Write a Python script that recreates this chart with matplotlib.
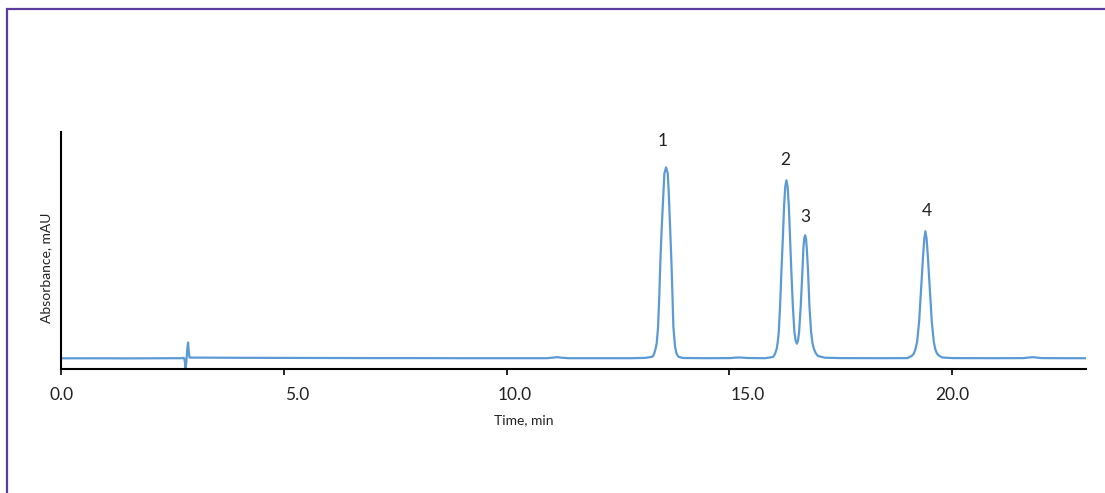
import matplotlib
matplotlib.use("Agg")
import matplotlib.pyplot as plt
from matplotlib.patches import Rectangle

# ---- data ----
time_min = [
    0.0, 0.5, 1.0, 1.5, 2.0, 2.5, 2.70, 2.76, 2.78, 2.795, 2.815, 2.835, 2.852, 2.868, 2.885,
    2.95, 3.5, 4.0, 5.0, 6.0, 7.0, 8.0, 9.0, 10.0, 10.9, 11.05, 11.13, 11.22, 11.4, 12.0,
    12.8, 13.1, 13.2, 13.28,
    13.315, 13.343, 13.368, 13.398, 13.427, 13.450, 13.481, 13.517, 13.539, 13.577, 13.615, 13.638,
    13.667, 13.696, 13.719, 13.741, 13.779, 13.81, 13.853, 13.95,
    14.5, 15.0, 15.15, 15.25, 15.4, 15.8,
    15.979, 16.02, 16.061, 16.085, 16.106, 16.136, 16.165, 16.197, 16.226, 16.252, 16.278, 16.304, 16.331,
    16.360, 16.389, 16.421, 16.457, 16.484, 16.511, 16.538, 16.562, 16.600, 16.636, 16.658,
    16.677, 16.697, 16.717, 16.735, 16.764, 16.793, 16.831, 16.862, 16.892, 16.94, 16.988, 17.139,
    17.5, 18.5, 19.0,
    19.008, 19.09, 19.136, 19.17, 19.210, 19.255, 19.300, 19.345, 19.372, 19.396, 19.423, 19.450, 19.495,
    19.540, 19.585, 19.62, 19.659, 19.71, 19.778,
    20.0, 21.0, 21.6, 21.7, 21.8, 21.9, 22.0, 22.5, 22.98,
]
absorbance = [
    0.2, 0.2, 0.2, 0.1, 0.2, 0.3, 0.3, 0.6, -3.0, -10.5, -2.0, 10.0, 16.0, 6.0, 1.0,
    0.9, 0.8, 0.7, 0.6, 0.5, 0.4, 0.4, 0.3, 0.3, 0.3, 0.9, 1.4, 0.8, 0.3, 0.3,
    0.3, 0.6, 1.2, 2.0,
    5.5, 10.0, 15.5, 31.8, 65.2, 98.5, 131.8, 165.2, 185.0, 191.2, 185.0, 165.2,
    131.8, 98.5, 65.2, 31.8, 11.8, 5.0, 1.8, 0.5,
    0.3, 0.4, 0.9, 1.0, 0.5, 0.3,
    1.5, 4.5, 9.8, 17.0, 26.5, 53.2, 86.5, 119.8, 153.2, 172.0, 178.2, 172.0, 153.2,
    119.8, 86.5, 53.2, 26.5, 18.0, 14.8, 18.0, 26.5, 53.2, 86.5, 109.8,
    120.0, 123.2, 120.0, 109.8, 86.5, 53.2, 26.5, 15.5, 9.8, 5.0, 2.5, 0.8,
    0.4, 0.3, 0.4,
    0.8, 2.6, 4.8, 9.0, 16.5, 36.5, 69.8, 103.2, 120.0, 127.2, 120.0, 103.2, 69.8,
    36.5, 16.5, 9.0, 4.8, 2.6, 1.0,
    0.4, 0.3, 0.4, 0.9, 1.3, 0.9, 0.4, 0.3, 0.3,
]
peak_labels = ["1", "2", "3", "4"]
peak_label_time = [13.51, 16.26, 16.70, 19.43]
peak_label_value = [217.8, 198.5, 141.2, 147.3]

tick_values = [0, 5, 10, 15, 20]
tick_labels = ["0.0", "5.0", "10.0", "15.0", "20.0"]

# ---- style / layout ----
W, H = 1105, 493
line_color = "#5b9bd5"
frame_color = "#5b3c9c"
label_shift = [0.02, 0.30, 0.18, 0.40, 0.01]
font = ["Lato", "DejaVu Sans"]
plt.rcParams["font.family"] = font

fig = plt.figure(figsize=(W / 100, H / 100), dpi=100)
fig.patch.set_facecolor("white")

# purple frame
fig.patches.append(Rectangle((7 / W, -0.1), 1.2, (H - 9) / H + 0.1,
                             transform=fig.transFigure, fill=False,
                             edgecolor=frame_color, linewidth=1.6))

ax_left, ax_right = 61, 1086
ax_top, ax_bottom = 132, 368.7
ax = fig.add_axes([ax_left / W, (H - ax_bottom) / H,
                   (ax_right - ax_left) / W, (ax_bottom - ax_top) / H])

ax.plot(time_min, absorbance, color=line_color, linewidth=1.6,
        solid_joinstyle="round")
ax.set_xlim(0, 23.0)
ax.set_ylim(-10.2, 226.5)

for s in ["top", "right"]:
    ax.spines[s].set_visible(False)
for s in ["left", "bottom"]:
    ax.spines[s].set_linewidth(1.5)
    ax.spines[s].set_color("black")

ax.set_yticks([])
ax.set_xticks(tick_values, [""] * len(tick_values))
ax.tick_params(axis="x", which="major", direction="out", length=4, width=1.2)
ax.xaxis.set_remove_overlapping_locs(False)
ax.set_xticks([v + d for v, d in zip(tick_values, label_shift)], tick_labels, minor=True)
ax.tick_params(axis="x", which="minor", length=0, pad=13, labelsize=12.5,
               labelcolor="#222222")

for lab, t, v in zip(peak_labels, peak_label_time, peak_label_value):
    ax.text(t, v, lab, ha="center", va="center", fontsize=12.5, color="#222222")

ax.set_xlabel("Time, min", fontsize=10, color="#222222")
ax.xaxis.set_label_coords((524 - ax_left) / (ax_right - ax_left),
                          (ax_bottom - 420) / (ax_bottom - ax_top))
ax.xaxis.label.set_va("center")
ax.set_ylabel("Absorbance, mAU", fontsize=10, color="#222222")
ax.yaxis.set_label_coords((46 - ax_left) / (ax_right - ax_left),
                          (ax_bottom - 268) / (ax_bottom - ax_top))
ax.yaxis.label.set_va("center")

fig.savefig("out.png", dpi=100)
